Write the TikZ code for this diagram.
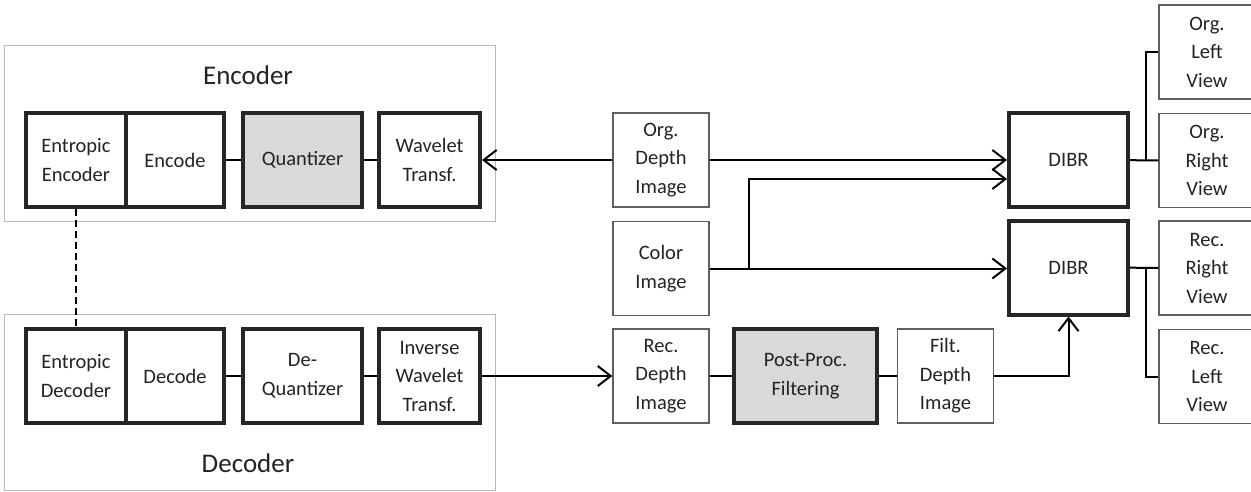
\documentclass[tikz,border=0pt]{standalone}
\usepackage{fontspec}
\setmainfont{Carlito}
\usetikzlibrary{arrows.meta,positioning}
\definecolor{boxgray}{RGB}{217,217,217}
\definecolor{edgegray}{RGB}{95,95,95}
\definecolor{framegray}{RGB}{185,185,185}
\definecolor{txt}{RGB}{35,35,35}

\begin{document}
\begin{tikzpicture}[x=1pt,y=-1pt,font=\fontsize{20.5}{28.5}\selectfont,text=txt,
  box/.style={draw=edgegray,line width=1.3pt,align=center,inner sep=0pt,minimum width=96pt,minimum height=94pt},
  tbox/.style={draw=black!85,line width=4pt,align=center,inner sep=0pt,minimum height=94pt},
  grp/.style={draw=framegray,line width=1pt,inner sep=0pt,minimum width=491pt,minimum height=176pt},
  ttl/.style={font=\fontsize{27}{32}\selectfont},
  arr/.style={-{Straight Barb[length=13pt,width=20pt,line width=2pt]},line width=2pt},
  ln/.style={line width=2pt}]
\useasboundingbox (0,0) rectangle (1251,491);
% encoder / decoder frames
\node[grp] (enc) at (249.5,133) {};
\node[grp] (dec) at (249.5,402.5) {};
\node[ttl] (enctitle) at (248,75) {Encoder};
\node[ttl] (dectitle) at (248,463) {Decoder};
% encoder chain
\node[tbox,minimum width=100pt] (entenc) at (76,160) {Entropic\\Encoder};
\node[tbox,minimum width=98pt] (encode) at (175,160) {Encode};
\node[tbox,fill=boxgray,minimum width=119pt] (quant) at (302.5,160) {Quantizer};
\node[tbox,minimum width=101pt] (wt) at (429.5,160) {Wavelet\\Transf.};
% decoder chain
\node[tbox,minimum width=100pt] (entdec) at (76,376) {Entropic\\Decoder};
\node[tbox,minimum width=98pt] (decode) at (175,376) {Decode};
\node[tbox,minimum width=119pt] (dequant) at (302.5,376) {De-\\Quantizer};
\node[tbox,minimum width=101pt] (iwt) at (429.5,376) {Inverse\\Wavelet\\Transf.};
% inputs and filtering
\node[box] (orgdepth) at (661,160) {Org.\\Depth\\Image};
\node[box] (color) at (661,268.5) {Color\\Image};
\node[box] (recdepth) at (661,376) {Rec.\\Depth\\Image};
\node[tbox,fill=boxgray,minimum width=143pt] (post) at (805.5,376) {Post-Proc.\\Filtering};
\node[box] (filt) at (945.5,376) {Filt.\\Depth\\Image};
% rendering
\node[tbox,minimum width=119pt] (dibra) at (1068.5,160) {DIBR};
\node[tbox,minimum width=119pt] (dibrb) at (1068.5,267.5) {DIBR};
\node[box] (orgleft) at (1207,52) {Org.\\Left\\View};
\node[box] (orgright) at (1207,160.5) {Org.\\Right\\View};
\node[box] (recright) at (1207,268) {Rec.\\Right\\View};
\node[box] (recleft) at (1207,376.5) {Rec.\\Left\\View};
\coordinate (split) at (749,268.5);
% connectors
\draw[ln] (encode) -- (quant);
\draw[ln] (quant) -- (wt);
\draw[ln] (dequant) -- (decode);
\draw[ln] (dequant) -- (iwt);
\draw[ln,dash pattern=on 7pt off 4pt] (entenc) -- (entdec);
\draw[arr] (orgdepth) -- (wt);
\draw[arr] (orgdepth) -- (dibra);
\draw[arr] (color) -- (color -| dibrb.west);
\draw[arr] (split) |- ([yshift=-19pt]dibra.west);
\draw[arr] (iwt) -- (recdepth);
\draw[ln] (recdepth) -- (post);
\draw[ln] (post) -- (filt);
\draw[arr] (filt) -| (dibrb);
\draw[ln] (dibra) -- (orgright);
\draw[ln] ([xshift=16pt]dibra.east) |- (orgleft);
\draw[ln] (dibrb) -- (recright);
\draw[ln] ([xshift=16pt]dibrb.east) |- (recleft);
\end{tikzpicture}
\end{document}
